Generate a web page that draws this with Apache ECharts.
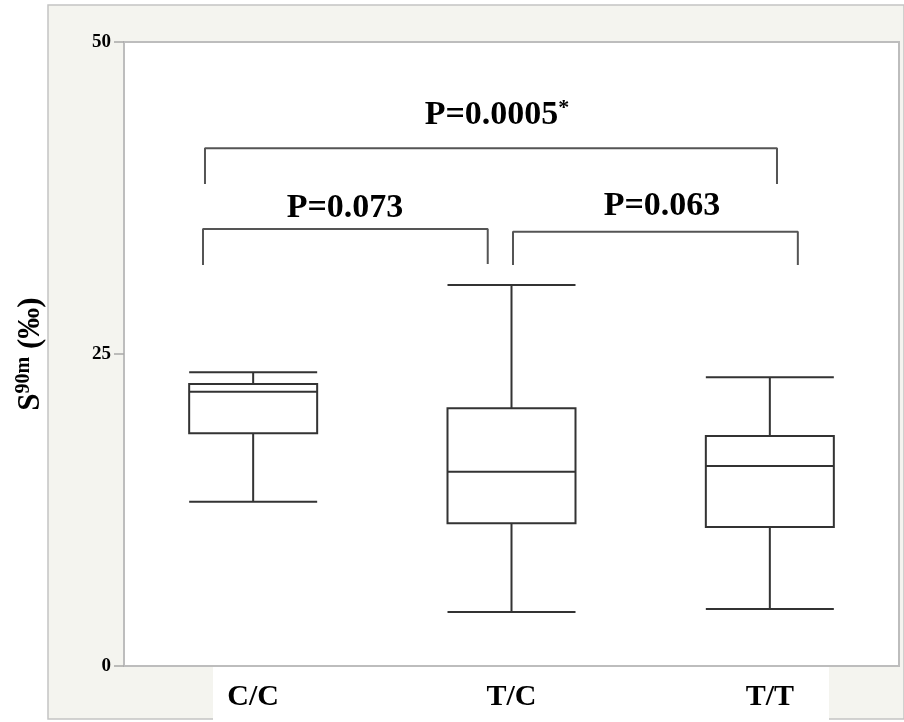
<!DOCTYPE html>
<html>
<head>
<meta charset="utf-8">
<script src="https://cdn.jsdelivr.net/npm/echarts@6/dist/echarts.min.js"></script>
<style>html,body{margin:0;padding:0;background:#fff;}#c{width:904px;height:722px;}</style>
</head>
<body>
<div id="c"></div>
<script>
const categories = ['C/C', 'T/C', 'T/T'];
// [min, Q1, median, Q3, max]
const boxCC = [13.17, 18.64, 21.98, 22.6, 23.53];
const boxTC = [4.33, 11.43, 15.57, 20.65, 30.53];
const boxTT = [4.57, 11.14, 16.03, 18.43, 23.13];
const yMin = 0, yMax = 50, yStep = 25;

// comparison brackets, in category-index units (0..3) and y values
const bracketTop = [[0.3135, 38.62], [0.3135, 41.48], [2.5277, 41.48], [2.5277, 38.62]];
const bracketLeft = [[0.3058, 32.13], [0.3058, 35.02], [1.408, 35.02], [1.408, 32.21]];
const bracketRight = [[1.5058, 32.13], [1.5058, 34.80], [2.6084, 34.80], [2.6084, 32.13]];
const pLabels = [
  {text: 'P=0.0005{s|*}', x: 1.4439, y: 44.11},
  {text: 'P=0.073', x: 0.8555, y: 36.70},
  {text: 'P=0.063', x: 2.0826, y: 36.82}
];

const SERIF = "'Liberation Serif', 'Times New Roman', serif";
const chart = echarts.init(document.getElementById('c'), null, {renderer: 'canvas'});

const bracketStyle = {color: '#555', width: 2};
function bracketSeries(d) {
  return {type: 'line', xAxisIndex: 1, yAxisIndex: 0, data: d, symbol: 'none',
    lineStyle: bracketStyle, silent: true, z: 5};
}

chart.setOption({
  animation: false,
  backgroundColor: '#fff',
  graphic: [
    {type: 'rect', z: -100, shape: {x: 48, y: 5, width: 856, height: 714},
     style: {fill: '#f4f4ef', stroke: '#c4c4c4', lineWidth: 1.5}},
    {type: 'rect', z: -99, shape: {x: 213, y: 667, width: 616, height: 55},
     style: {fill: '#ffffff'}}
  ],
  grid: {left: 124, top: 42, right: 5, bottom: 56, show: true,
    backgroundColor: '#ffffff', borderColor: '#bdbdbd', borderWidth: 2},
  xAxis: [
    {type: 'category', data: categories, boundaryGap: true,
     axisLine: {show: true, lineStyle: {color: '#bdbdbd', width: 2}},
     axisTick: {show: false}, splitLine: {show: false},
     axisLabel: {fontFamily: SERIF, fontWeight: 'bold', fontSize: 30, color: '#000', margin: 16}},
    {type: 'value', min: 0, max: 3, show: false}
  ],
  yAxis: {
    type: 'value', min: yMin, max: yMax, interval: yStep,
    axisLine: {show: true, lineStyle: {color: '#bdbdbd', width: 2}},
    axisTick: {show: true, length: 10, lineStyle: {color: '#a8a8a8', width: 1.5}},
    splitLine: {show: false},
    axisLabel: {fontFamily: SERIF, fontWeight: 'bold', fontSize: 19, color: '#000', margin: 13},
    name: '{a|S}{b|90m}{a| (‰)}',
    nameLocation: 'middle', nameRotate: 90, nameGap: 76,
    nameTextStyle: {
      rich: {
        a: {fontFamily: SERIF, fontWeight: 'bold', fontSize: 31, lineHeight: 34, color: '#000'},
        b: {fontFamily: SERIF, fontWeight: 'bold', fontSize: 20, lineHeight: 34, verticalAlign: 'top', color: '#000'}
      }
    }
  },
  series: [
    {type: 'boxplot', xAxisIndex: 0, yAxisIndex: 0, boxWidth: [128, 128],
     data: [boxCC, boxTC, boxTT],
     itemStyle: {color: '#ffffff', borderColor: '#333333', borderWidth: 2},
     emphasis: {disabled: true}},
    bracketSeries(bracketTop),
    bracketSeries(bracketLeft),
    bracketSeries(bracketRight),
    {type: 'scatter', xAxisIndex: 1, yAxisIndex: 0, symbolSize: 0, silent: true,
     itemStyle: {color: '#000', opacity: 1},
     data: pLabels.map(p => ({value: [p.x, p.y], name: p.text})),
     label: {show: true, position: 'inside', formatter: p => p.name,
       fontFamily: SERIF, fontWeight: 'bold', fontSize: 34, lineHeight: 36, color: '#000',
       textBorderWidth: 0, textShadowBlur: 0, opacity: 1,
       rich: {s: {fontFamily: SERIF, fontWeight: 'bold', fontSize: 22, lineHeight: 36, verticalAlign: 'top', color: '#000', textBorderWidth: 0}}}}
  ]
});
</script>
</body>
</html>
